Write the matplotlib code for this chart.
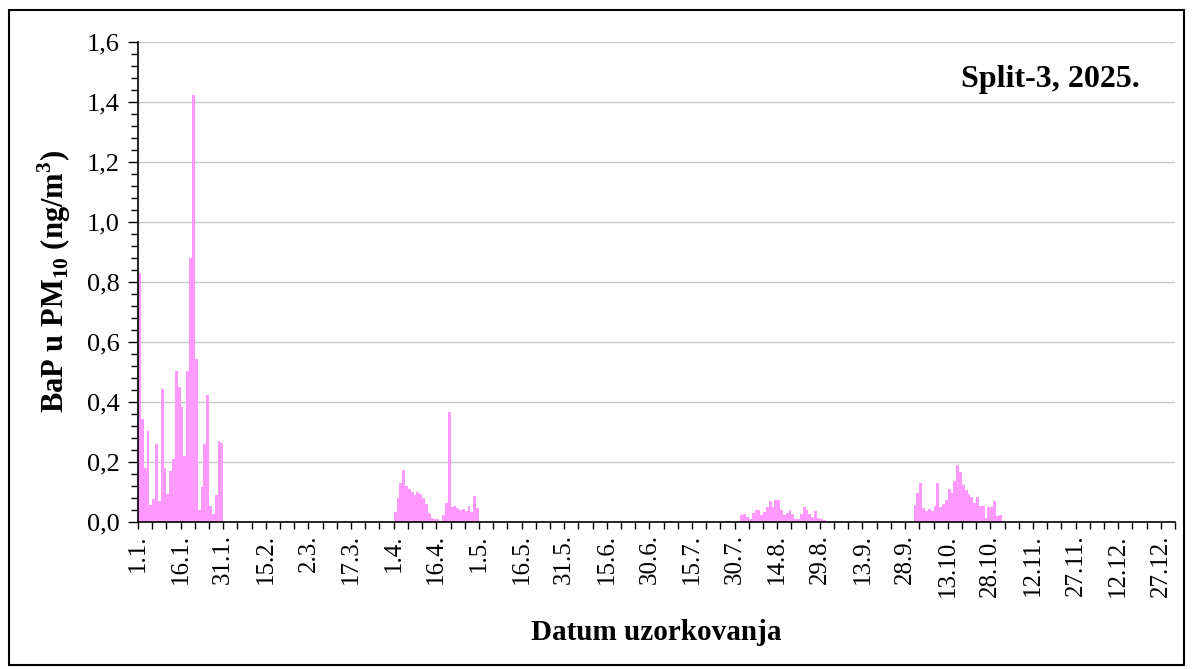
import datetime as dt
import numpy as np
import matplotlib
matplotlib.use("Agg")
import matplotlib.pyplot as plt
from matplotlib.patches import Rectangle
from matplotlib.ticker import MultipleLocator, FuncFormatter

# dnevne vrijednosti BaP u PM10 (ng/m3) po kampanjama
jan_start = "2025-01-01"
jan_vals = [0.83, 0.345, 0.18, 0.305, 0.058, 0.078, 0.26, 0.07, 0.445, 0.18,
            0.095, 0.17, 0.21, 0.505, 0.45, 0.385, 0.22, 0.505, 0.88, 1.425,
            0.545, 0.04, 0.118, 0.26, 0.425, 0.055, 0.028, 0.09, 0.27, 0.263]

apr_start = "2025-04-01"
apr_vals = [0.035, 0.08, 0.13, 0.175, 0.12, 0.11, 0.10, 0.09, 0.10, 0.095,
            0.08, 0.06, 0.03, 0.012, 0.01, 0.01, 0.005, 0.025, 0.065, 0.367,
            0.05, 0.053, 0.048, 0.04, 0.045, 0.037, 0.053, 0.034, 0.087, 0.047]

aug_start = "2025-08-01"
aug_vals = [0.023, 0.028, 0.017, 0.011, 0.03, 0.04, 0.04, 0.023, 0.034, 0.049,
            0.07, 0.05, 0.073, 0.073, 0.04, 0.025, 0.03, 0.04, 0.028, 0.009,
            0.009, 0.028, 0.049, 0.04, 0.028, 0.017, 0.036, 0.015, 0.011, 0.006]

oct_start = "2025-10-01"
oct_vals = [0.057, 0.097, 0.13, 0.046, 0.038, 0.042, 0.037, 0.055, 0.13, 0.051,
            0.06, 0.075, 0.11, 0.097, 0.137, 0.19, 0.168, 0.125, 0.108, 0.095,
            0.085, 0.062, 0.084, 0.052, 0.053, 0.015, 0.05, 0.05, 0.071, 0.02,
            0.023]

campaigns = [(jan_start, jan_vals), (apr_start, apr_vals),
             (aug_start, aug_vals), (oct_start, oct_vals)]

year_start = dt.date(2025, 1, 1)
n_days = 365
label_step = 15
minor_step = 5

title_text = "Split-3, 2025."
xlabel = "Datum uzorkovanja"
ylabel = r"BaP u PM$_{\mathbf{10}}$ (ng/m$^{\mathbf{3}}$)"

plt.rcParams['font.family'] = ['Liberation Serif', 'DejaVu Serif']
plt.rcParams['mathtext.fontset'] = 'custom'
plt.rcParams['mathtext.rm'] = 'Liberation Serif'
plt.rcParams['mathtext.bf'] = 'Liberation Serif:bold'

fig = plt.figure(figsize=(11.93, 6.69), dpi=100)
ax = fig.add_axes([138 / 1193, 1 - 522 / 669, (1175 - 138) / 1193, (522 - 42) / 669])

bar_color = '#ff99ff'
for start, vals in campaigns:
    d0 = (dt.date.fromisoformat(start) - year_start).days
    x = d0 + np.arange(len(vals))
    ax.bar(x, vals, width=1.0, align='edge', color=bar_color, edgecolor='none', zorder=3)

ax.set_xlim(0, n_days)
ax.set_ylim(0, 1.6)

# y os
ax.yaxis.set_major_locator(MultipleLocator(0.2))
ax.yaxis.set_minor_locator(MultipleLocator(0.04))
ax.yaxis.set_major_formatter(FuncFormatter(lambda v, p: f"{v:.1f}".replace('.', ',')))
ax.grid(axis='y', which='major', color='#c8c8c8', linewidth=1.0, zorder=0)
ax.tick_params(axis='y', which='major', length=7, width=1, direction='out', labelsize=19, pad=6)
ax.tick_params(axis='y', which='minor', length=5, width=1, direction='out')

# x os - datumi
def date_label(v, p):
    d = year_start + dt.timedelta(days=int(round(v)))
    return f"{d.day}.{d.month}."

ax.xaxis.set_major_locator(MultipleLocator(label_step))
ax.xaxis.set_minor_locator(MultipleLocator(minor_step))
ax.xaxis.set_major_formatter(FuncFormatter(date_label))
ax.tick_params(axis='x', which='both', length=5, width=1, direction='out')
ax.tick_params(axis='x', which='major', labelsize=18, labelrotation=90, pad=4)

for s in ['top', 'right']:
    ax.spines[s].set_visible(False)
for s in ['left', 'bottom']:
    ax.spines[s].set_linewidth(1.2)
    ax.spines[s].set_zorder(4)

ax.set_xlabel(xlabel, fontsize=21, fontweight='bold', labelpad=16)
ax.set_ylabel(ylabel, fontsize=22, fontweight='bold', labelpad=10)

ax.text(0.966, 0.922, title_text, transform=ax.transAxes, ha='right', va='center',
        fontsize=23, fontweight='bold')

# okvir oko cijele slike
fig.patches.append(Rectangle((9 / 1193, 4 / 669), 1175 / 1193, 655 / 669,
                             transform=fig.transFigure, fill=False,
                             edgecolor='black', linewidth=1.5))

fig.savefig("out.png", dpi=100)
